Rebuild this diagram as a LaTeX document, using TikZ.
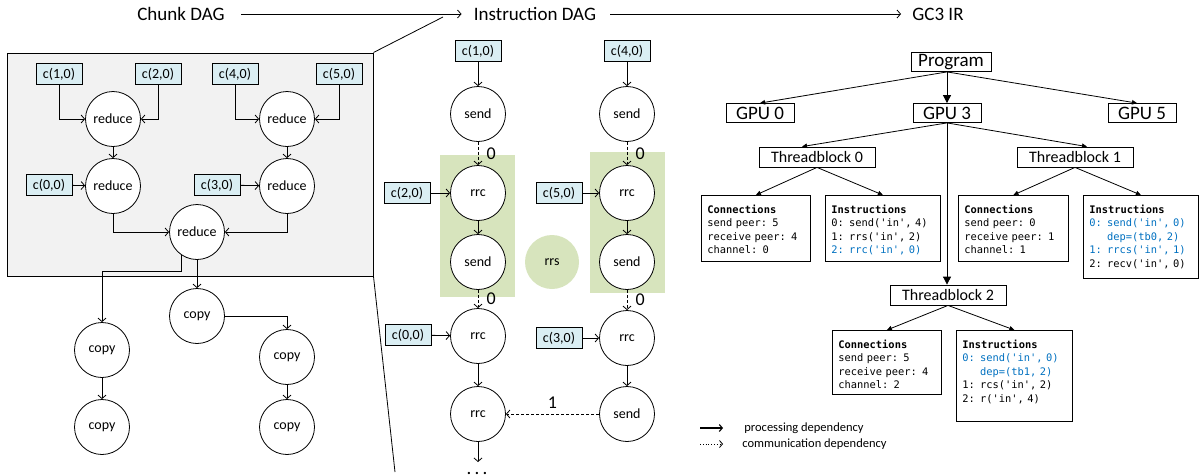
\documentclass[tikz,border=0pt]{standalone}
\usepackage{fontspec}
\setmainfont{Carlito}
\setmonofont{DejaVu Sans Mono}
\usetikzlibrary{calc,arrows.meta}

\definecolor{panelgray}{HTML}{F2F2F2}
\definecolor{chunkblue}{HTML}{DAEEF3}
\definecolor{rrgreen}{HTML}{D7E4BD}
\definecolor{codeblue}{HTML}{0070C0}
\newcommand{\sz}[1]{\fontsize{#1}{#1}\selectfont}

\begin{document}
\begin{tikzpicture}[x=1pt,y=-1pt,line width=0.8pt,
  arr/.style={-{Straight Barb[length=3.5pt,width=8pt]}},
  dep/.style={arr,dash pattern=on 3pt off 2pt},
  tree/.style={-{Triangle[length=5pt,width=4.5pt]}},
  bigtree/.style={-{Triangle[length=8pt,width=8pt]}},
  op/.style={circle,draw,fill=white,minimum size=55pt,inner sep=0pt,font=\sz{14}},
  chunk/.style={draw,fill=chunkblue,minimum width=46pt,minimum height=21pt,inner sep=0pt,font=\sz{14}},
  lvl/.style={draw,minimum height=19pt,inner sep=0pt,font=\sz{19}},
  tblock/.style={draw,minimum width=116pt,minimum height=20pt,inner sep=0pt,font=\sz{16}},
  code/.style={draw,anchor=north west,align=left,inner xsep=6pt,inner ysep=6pt,text height=12pt,font=\ttfamily\fontsize{10.4}{13.5}\selectfont},
  title/.style={font=\sz{19},inner sep=3pt},
  chan/.style={right,xshift=5pt,font=\sz{18}},
  legend/.style={anchor=west,font=\sz{12.5},inner sep=0pt}]

\useasboundingbox (0,0) rectangle (1199,475);

%titles
\node[title] (chunkdag) at (181,14) {Chunk DAG};
\node[title] (instdag) at (535,14) {Instruction DAG};
\node[title] (gcir) at (938,14) {GC3 IR};
\draw[arr,shorten <=13pt,shorten >=9pt] (chunkdag) -- (instdag);
\draw[arr,shorten <=11pt,shorten >=8pt] (instdag) -- (gcir);

%chunk DAG
\begin{scope}
\node[draw,fill=panelgray,line width=1pt,minimum width=366pt,minimum height=223pt] (chunkpanel) at (190,164.5) {};
\coordinate (zt) at (443,17);
\coordinate (zb) at (395,472);
\draw (chunkpanel.north east) -- (zt);
\draw (chunkpanel.south east) -- (zb);

\node[chunk] (c10) at (59,74) {c(1,0)};
\node[chunk] (c20) at (158,74) {c(2,0)};
\node[chunk] (c40) at (235,74) {c(4,0)};
\node[chunk] (c50) at (339,74) {c(5,0)};
\node[chunk] (c00) at (49,185) {c(0,0)};
\node[chunk] (c30) at (217,185) {c(3,0)};

\node[op] (red1) at (113,119) {reduce};
\node[op] (red2) at (287,119) {reduce};
\node[op] (red3) at (113,186) {reduce};
\node[op] (red4) at (287,186) {reduce};
\node[op] (red5) at (197,232) {reduce};

\node[op] (cp1) at (197,316) {copy};
\node[op] (cp2) at (102,350) {copy};
\node[op] (cp3) at (287,357) {copy};
\node[op] (cp4) at (102,427) {copy};
\node[op] (cp5) at (287,427) {copy};

\draw[arr] (c10) |- (red1);
\draw[arr] (c20) |- (red1);
\draw[arr] (c40) |- (red2);
\draw[arr] (c50) |- (red2);
\draw[arr] (red1) -- (red3);
\draw[arr] (red2) -- (red4);
\draw[arr] (c00) -- (red3);
\draw[arr] (c30) -- (red4);
\draw[arr] (red3) |- (red5);
\draw[arr] (red4) |- (red5);
\draw[arr] (red5) -- (cp1);
\draw[arr] (red5.236) -- ++(0,16) -| (cp2);
\draw[arr] (cp1) -| (cp3);
\draw[arr] (cp2) -- (cp4);
\draw[arr] (cp3) -- (cp5);
\end{scope}

%instruction DAG
\begin{scope}
\fill[rrgreen] (440,155) rectangle (515,297);
\fill[rrgreen] (590,152) rectangle (665,293);

\node[chunk] (i10) at (478,51) {c(1,0)};
\node[chunk] (i40) at (627,51) {c(4,0)};
\node[chunk] (i20) at (407,193) {c(2,0)};
\node[chunk] (i50) at (559,193) {c(5,0)};
\node[chunk] (i00) at (408,335) {c(0,0)};
\node[chunk] (i30) at (559,338) {c(3,0)};

\node[op] (snd1) at (478,114) {send};
\node[op] (snd2) at (627,114) {send};
\node[op] (rrc1) at (478,193) {rrc};
\node[op] (rrc2) at (627,193) {rrc};
\node[op] (snd3) at (478,262) {send};
\node[op] (snd4) at (627,262) {send};
\node[circle,fill=rrgreen,minimum size=54pt,inner sep=0pt,font=\sz{14}] (rrs) at (552,262) {rrs};
\node[op] (rrc3) at (478,336) {rrc};
\node[op] (rrc4) at (627,338) {rrc};
\node[op] (rrc5) at (478,414) {rrc};
\node[op] (snd5) at (627,414) {send};

\coordinate (rrcend) at (478,462);
\node[font=\sz{19},anchor=base,inner sep=0pt] (more) at (477,474) {.\,.\,.};

\draw[arr] (i10) -- (snd1);
\draw[arr] (i40) -- (snd2);
\draw[dep] (snd1) -- node[chan] {0} (rrc1);
\draw[dep] (snd2) -- node[chan] {0} (rrc2);
\draw[arr] (i20) -- (rrc1);
\draw[arr] (i50) -- (rrc2);
\draw[arr] (rrc1) -- (snd3);
\draw[arr] (rrc2) -- (snd4);
\draw[dep] (snd3) -- node[chan] {0} (rrc3);
\draw[dep] (snd4) -- node[chan] {0} (rrc4);
\draw[arr] (i00) -- (rrc3);
\draw[arr] (i30) -- (rrc4);
\draw[arr] (rrc3) -- (rrc5);
\draw[arr] (rrc4) -- (snd5);
\draw[dep] (snd5) -- node[above,yshift=2pt,font=\sz{18}] {1} (rrc5);
\draw[arr] (rrc5) -- (rrcend);
\end{scope}

%GC3 IR
\begin{scope}
\node[lvl,minimum width=80pt] (prog) at (951,62) {Program};
\node[lvl,minimum width=68pt] (gpu0) at (760,113) {GPU 0};
\node[lvl,minimum width=68pt] (gpu3) at (947,113) {GPU 3};
\node[lvl,minimum width=68pt] (gpu5) at (1142,113) {GPU 5};
\node[tblock] (tb0) at (817,157) {Threadblock 0};
\node[tblock] (tb1) at (1075,157) {Threadblock 1};
\node[tblock] (tb2) at (948,295) {Threadblock 2};

\node[code,text width=97pt,text depth=42pt] (conn0) at (701,195)
  {\textbf{Connections}\\send peer: 5\\receive peer: 4\\channel: 0};
\node[code,text width=103pt,text depth=42pt] (inst0) at (825,195)
  {\textbf{Instructions}\\0: send('in', 4)\\1: rrs('in', 2)\\\textcolor{codeblue}{2: rrc('in', 0)}};
\node[code,text width=98pt,text depth=42pt] (conn1) at (958,195)
  {\textbf{Connections}\\send peer: 0\\receive peer: 1\\channel: 1};
\node[code,text width=103pt,text depth=59pt] (inst1) at (1083,195)
  {\textbf{Instructions}\\\textcolor{codeblue}{0: send('in', 0)}\\\textcolor{codeblue}{\phantom{0: }dep=(tb0, 2)}\\\textcolor{codeblue}{1: rrcs('in', 1)}\\2: recv('in', 0)};
\node[code,text width=97pt,text depth=40pt] (conn2) at (832,330)
  {\textbf{Connections}\\send peer: 5\\receive peer: 4\\channel: 2};
\node[code,text width=104pt,text depth=67pt] (inst2) at (956,330)
  {\textbf{Instructions}\\\textcolor{codeblue}{0: send('in', 0)}\\\textcolor{codeblue}{\phantom{0: }dep=(tb1, 2)}\\1: rcs('in', 2)\\2: r('in', 4)};

\coordinate (pfoot) at (prog.south -| gpu3.north);
\draw[tree] (pfoot) -- (gpu0.north);
\draw[bigtree] (pfoot) -- (gpu3.north);
\draw[tree] (pfoot) -- ($(gpu5.north)+(-5,0)$);
\draw[tree] (gpu3.south) -- ($(tb0.north)+(-15,0)$);
\draw[tree] (gpu3.south) -- ($(tb1.north)+(12,0)$);
\draw[bigtree] (gpu3.south) -- (gpu3.south |- tb2.north);
\draw[tree] (tb0.south) -- (conn0.north);
\draw[tree] (tb0.south) -- (inst0.north);
\draw[tree] (tb1.south) -- (conn1.north);
\draw[tree] (tb1.south) -- (inst1.north);
\draw[tree] (tb2.south) -- (conn2.north);
\draw[tree] (tb2.south) -- (inst2.north);
\end{scope}

%legend
\coordinate (pa) at (700,428);
\coordinate (pb) at (723,428);
\coordinate (ca) at (700,444);
\coordinate (cb) at (723,444);
\draw[-{Straight Barb[length=3pt,width=7pt]},line width=1.1pt] (pa) -- (pb);
\draw[-{Straight Barb[length=3pt,width=7pt]},dotted] (ca) -- (cb);
\node[legend] (ptext) at (744,428) {processing dependency};
\node[legend] (ctext) at (742,444) {communication dependency};

\end{tikzpicture}
\end{document}
